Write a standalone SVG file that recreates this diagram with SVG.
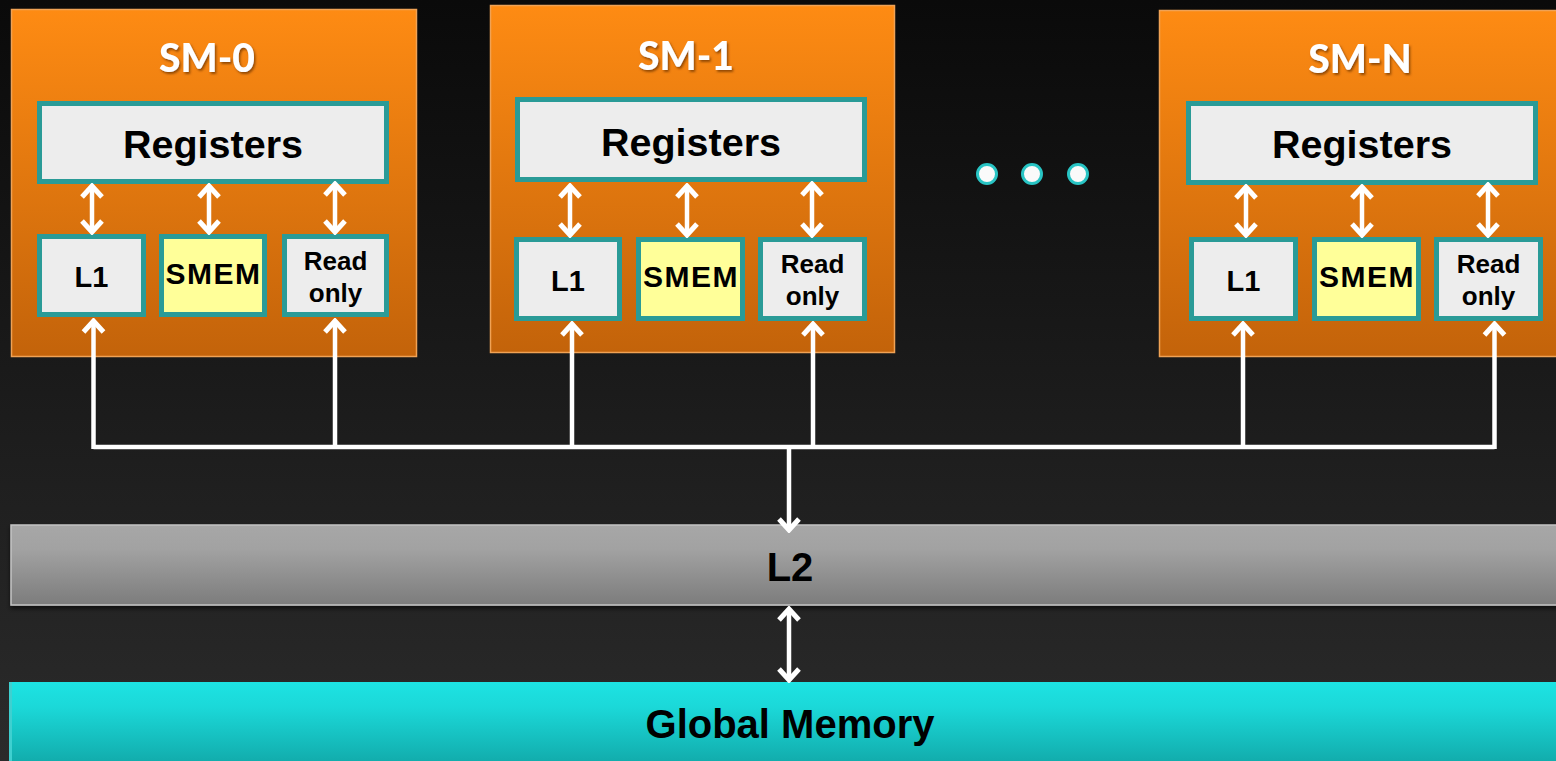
<svg xmlns="http://www.w3.org/2000/svg" width="1556" height="761" viewBox="0 0 1556 761">
<defs>
<linearGradient id="bg" x1="0" y1="0" x2="0" y2="1"><stop offset="0" stop-color="#0a0a0a"/><stop offset="1" stop-color="#2b2b2b"/></linearGradient>
<linearGradient id="sm" x1="0" y1="0" x2="0" y2="1"><stop offset="0" stop-color="#fe8b13"/><stop offset="1" stop-color="#c3630a"/></linearGradient>
<linearGradient id="l2" x1="0" y1="0" x2="0" y2="1"><stop offset="0" stop-color="#a7a7a7"/><stop offset="0.3" stop-color="#a2a2a2"/><stop offset="1" stop-color="#7c7c7c"/></linearGradient>
<linearGradient id="gm" x1="0" y1="0" x2="0" y2="1"><stop offset="0" stop-color="#1de3e3"/><stop offset="0.3" stop-color="#1bd8d8"/><stop offset="1" stop-color="#11a8a8"/></linearGradient>
<filter id="ts" x="-10%" y="-10%" width="130%" height="140%"><feDropShadow dx="1.5" dy="2" stdDeviation="1.2" flood-color="#7a3a00" flood-opacity="0.8"/></filter>
<filter id="bs" x="-5%" y="-5%" width="110%" height="130%"><feDropShadow dx="0" dy="3" stdDeviation="2" flood-color="#000" flood-opacity="0.6"/></filter>
<marker id="head" viewBox="-15 -13 18 26" refX="0" refY="0" markerWidth="18" markerHeight="26" markerUnits="userSpaceOnUse" orient="auto-start-reverse">
<path d="M-11,-10 L0,0 L-11,10" fill="none" stroke="#fff" stroke-width="5" stroke-linejoin="miter"/>
</marker>
<style>
.sm{fill:url(#sm);stroke:#f0a255;stroke-width:1.5}
.box{fill:#ededed;stroke:#2a9b97;stroke-width:5}
.smem{fill:#ffff99;stroke:#2a9b97;stroke-width:5}
.title{font-family:Lato,"Open Sans",sans-serif;font-weight:900;font-size:39px;fill:#fff;text-anchor:middle}
.reg{font-family:"Liberation Sans",Arial,sans-serif;font-weight:bold;font-size:39.5px;fill:#000;text-anchor:middle}
.l1{font-family:"Liberation Sans",Arial,sans-serif;font-weight:bold;font-size:29px;fill:#000;text-anchor:middle}
.sme{font-family:"Liberation Sans",Arial,sans-serif;font-weight:bold;font-size:30px;fill:#000;text-anchor:middle;letter-spacing:1.5px}
.ro{font-family:"Liberation Sans",Arial,sans-serif;font-weight:bold;font-size:26px;fill:#000;text-anchor:middle}
.big{font-family:"Liberation Sans",Arial,sans-serif;font-weight:bold;font-size:40px;fill:#000;text-anchor:middle}
.arr{fill:none;stroke:#fff;stroke-width:4.5}
.dbl{marker-start:url(#head);marker-end:url(#head)}
.one{marker-end:url(#head)}
.dot{fill:#fafafa;stroke:#28c4c4;stroke-width:3}
</style>
</defs>
<rect width="1556" height="761" fill="url(#bg)"/>

<g id="sm0">
<rect class="sm" x="11.5" y="9.5" width="405" height="347"/>
<text class="title" x="207" y="72" filter="url(#ts)">SM-0</text>
<rect class="box" x="39.5" y="103.5" width="347" height="78"/>
<text class="reg" x="213" y="158">Registers</text>
<rect class="box" x="39.5" y="236.5" width="104" height="78"/>
<text class="l1" x="91.5" y="287">L1</text>
<rect class="smem" x="161.5" y="236.5" width="103" height="78"/>
<text class="sme" x="213.5" y="284">SMEM</text>
<rect class="box" x="284.5" y="236.5" width="102" height="78"/>
<text class="ro" x="335.5" y="270">Read</text>
<text class="ro" x="335.5" y="302">only</text>
</g>

<g id="sm1">
<rect class="sm" x="490.5" y="5.5" width="404" height="347"/>
<text class="title" x="686" y="70" filter="url(#ts)">SM-1</text>
<rect class="box" x="517.5" y="99.5" width="347" height="80"/>
<text class="reg" x="691" y="156">Registers</text>
<rect class="box" x="516.5" y="239.5" width="103" height="79"/>
<text class="l1" x="568" y="291">L1</text>
<rect class="smem" x="638.5" y="239.5" width="104" height="79"/>
<text class="sme" x="691" y="287">SMEM</text>
<rect class="box" x="760.5" y="239.5" width="104" height="79"/>
<text class="ro" x="812.5" y="273">Read</text>
<text class="ro" x="812.5" y="305">only</text>
</g>

<g id="smn">
<rect class="sm" x="1159.5" y="10.5" width="400" height="346"/>
<text class="title" x="1360" y="73" filter="url(#ts)">SM-N</text>
<rect class="box" x="1188.5" y="103.5" width="347" height="79"/>
<text class="reg" x="1362" y="158">Registers</text>
<rect class="box" x="1191.5" y="239.5" width="104" height="79"/>
<text class="l1" x="1243.5" y="291">L1</text>
<rect class="smem" x="1314.5" y="239.5" width="104" height="79"/>
<text class="sme" x="1367" y="287">SMEM</text>
<rect class="box" x="1436.5" y="239.5" width="104" height="79"/>
<text class="ro" x="1488.5" y="273">Read</text>
<text class="ro" x="1488.5" y="305">only</text>
</g>

<g id="dots">
<circle class="dot" cx="987" cy="174" r="9.5"/>
<circle class="dot" cx="1032" cy="174" r="9.5"/>
<circle class="dot" cx="1078" cy="174" r="9.5"/>
</g>

<g id="l2">
<rect x="11" y="525" width="1550" height="80" fill="url(#l2)" stroke="#c4c4c4" stroke-width="1.5" filter="url(#bs)"/>
<text class="big" x="790" y="581">L2</text>
</g>

<g id="global">
<rect x="9" y="682" width="1552" height="85" fill="url(#gm)"/>
<rect x="9" y="682" width="3" height="85" fill="#3fd0d0"/>
<text class="big" x="790" y="738">Global Memory</text>
</g>

<g id="connectors">
<path class="arr dbl" d="M92,186 V232"/>
<path class="arr dbl" d="M209,186 V232"/>
<path class="arr dbl" d="M335,184 V232"/>
<path class="arr dbl" d="M570,186 V235"/>
<path class="arr dbl" d="M687,186 V235"/>
<path class="arr dbl" d="M812,184 V235"/>
<path class="arr dbl" d="M1246,187 V235"/>
<path class="arr dbl" d="M1362,187 V235"/>
<path class="arr dbl" d="M1488,185 V235"/>
<path class="arr" d="M93.5,447 H1494.5"/>
<path class="arr one" d="M93.5,449 V321"/>
<path class="arr one" d="M335,449 V321"/>
<path class="arr one" d="M572,449 V324"/>
<path class="arr one" d="M813,449 V324"/>
<path class="arr one" d="M1243,449 V324"/>
<path class="arr one" d="M1494.5,449 V324"/>
<path class="arr one" d="M789,447 V530"/>
<path class="arr dbl" d="M789,609 V680"/>
</g>
</svg>
